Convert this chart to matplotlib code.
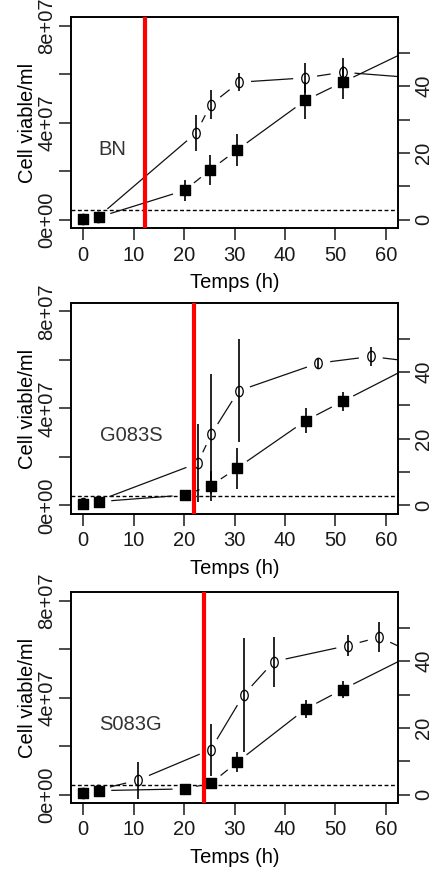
import matplotlib
matplotlib.use("Agg")
import matplotlib.pyplot as plt
import numpy as np
from matplotlib.path import Path

plt.rcParams['font.family'] = ['Liberation Sans', 'DejaVu Sans']
plt.rcParams['font.size'] = 14.5
plt.rcParams['text.color'] = '#1a1a1a'
plt.rcParams['xtick.color'] = '#1a1a1a'
plt.rcParams['ytick.color'] = '#1a1a1a'

# --- data (viable cells in units of 1e7 / ml on the left axis, second series on the right axis)
strains = ["BN", "G083S", "S083G"]
induction_h = [12.2, 22.0, 23.9]
threshold_e7 = 0.41

bn_sq_t = [0, 3.1, 20.1, 25.2, 30.5, 44.0, 51.4, 70]
bn_sq_v = [0.03, 0.1, 1.2, 2.05, 2.87, 4.91, 5.66, 7.52]
bn_sq_err = [0, 0, 0.45, 0.62, 0.65, 0.78, 0.69, 0]
bn_ci_t = [0, 3.0, 22.4, 25.3, 30.9, 44.0, 51.4, 70]
bn_ci_v = [0.2, 0.85, 26.0, 34.5, 41.2, 42.5, 44.2, 42.0]
bn_ci_err = [0, 0, 5.5, 4.4, 2.7, 4.4, 4.4, 0]

g_sq_t = [0, 3.2, 20.1, 25.3, 30.5, 44.1, 51.4, 70]
g_sq_v = [0.05, 0.16, 0.43, 0.82, 1.54, 3.5, 4.29, 6.27]
g_sq_err = [0, 0, 0.2, 0.62, 0.84, 0.52, 0.38, 0]
g_ci_t = [0, 3.0, 22.7, 25.4, 30.8, 46.6, 57.0, 70]
g_ci_v = [0.7, 1.4, 12.7, 21.4, 34.4, 42.7, 44.7, 42.3]
g_ci_err = [0, 0, 11.8, 18.0, 15.5, 1.5, 2.8, 0]

s_sq_t = [0, 3.2, 20.1, 25.4, 30.5, 44.1, 51.4, 70]
s_sq_v = [0.05, 0.16, 0.23, 0.47, 1.33, 3.53, 4.33, 6.27]
s_sq_err = [0, 0, 0, 0.15, 0.41, 0.36, 0.34, 0]
s_ci_t = [0, 3.0, 10.85, 25.3, 31.8, 37.8, 52.5, 58.7, 66]
s_ci_v = [0.4, 1.4, 4.3, 13.5, 29.9, 39.9, 44.7, 47.2, 42.0]
s_ci_err = [0, 0, 5.6, 7.8, 17.0, 7.5, 3.2, 4.5, 0]

panels = [
    (bn_sq_t, bn_sq_v, bn_sq_err, bn_ci_t, bn_ci_v, bn_ci_err),
    (g_sq_t, g_sq_v, g_sq_err, g_ci_t, g_ci_v, g_ci_err),
    (s_sq_t, s_sq_v, s_sq_err, s_ci_t, s_ci_v, s_ci_err),
]

# open "circle" is a bit taller than wide in the reference (squashed picture)
_c = Path.unit_circle()
ellipse = Path(_c.vertices * [0.72, 1.0], _c.codes)
square = Path([(-0.45, -0.5), (0.45, -0.5), (0.45, 0.5), (-0.45, 0.5), (-0.45, -0.5)],
              [Path.MOVETO, Path.LINETO, Path.LINETO, Path.LINETO, Path.CLOSEPOLY])

RATIO = 7.275  # right-axis units per 1e7 cells


def gapped_line(ax, x, y, gap=12, lw=0.9):
    # R type="b": segments between points, cut short around each point
    pts = ax.transData.transform(np.column_stack([x, y]))
    inv = ax.transData.inverted()
    for p0, p1 in zip(pts[:-1], pts[1:]):
        d = p1 - p0
        n = np.hypot(*d)
        if n <= 2 * gap:
            continue
        u = d / n
        a = inv.transform(p0 + u * gap)
        b = inv.transform(p1 - u * gap)
        ax.plot([a[0], b[0]], [a[1], b[1]], color='#111111', lw=lw, solid_capstyle='butt')


fig = plt.figure(figsize=(4.34, 8.75), dpi=100)
bottoms = [0.7394, 0.4126, 0.0823]

for i, (sq_t, sq_v, sq_e, ci_t, ci_v, ci_e) in enumerate(panels):
    ax = fig.add_axes([0.1636, bottoms[i], 0.7535, 0.2411])
    ax2 = ax.twinx()
    ax.set_xlim(-2.4, 62.4)
    ax.set_ylim(-0.35, 8.35)
    ax2.set_ylim(-0.35 * RATIO, 8.35 * RATIO)

    ax.set_xticks(range(0, 61, 10))
    ax.set_yticks([0, 2, 4, 6, 8])
    ax.set_yticklabels(['0e+00', '', '4e+07', '', '8e+07'], rotation=90, va='center')
    ax2.set_yticks(range(0, 51, 10))
    ax2.set_yticklabels(['0', '', '20', '', '40', ''], rotation=90, va='center')
    for a in (ax, ax2):
        a.tick_params(direction='out', length=8.6, width=1.1)
        for s in a.spines.values():
            s.set_linewidth(1.2)
    ax.tick_params(axis='x', pad=4)
    ax.tick_params(axis='y', pad=2)
    ax2.tick_params(axis='y', pad=3)

    ax.set_xlabel('Temps (h)', labelpad=6)
    ax.set_ylabel('Cell viable/ml', labelpad=0.5)

    ax.axhline(threshold_e7, color='black', lw=1.0, ls=(0, (2.8, 1.8)))

    # squares, left axis
    gapped_line(ax, sq_t, sq_v)
    sv = np.array(sq_v[:-1])
    se = np.array(sq_e[:-1])
    ax.vlines(sq_t[:-1], sv - se, sv + se, color='black', lw=1.2)
    ax.plot(sq_t[:-1], sq_v[:-1], ls='none', marker=square, ms=7.4,
            mfc='black', mec='black')

    # circles, right axis
    gapped_line(ax2, ci_t, ci_v)
    cv = np.array(ci_v[:-1])
    ce = np.array(ci_e[:-1])
    ax2.vlines(ci_t[:-1], cv - ce, cv + ce, color='black', lw=1.2)
    ax2.plot(ci_t[:-1], ci_v[:-1], ls='none', marker=ellipse, ms=7.5,
             mfc='none', mec='black', mew=0.9)

    ax2.axvline(induction_h[i], color='#ff0000', lw=3, zorder=6)
    ax.text(0.125 if i == 0 else 0.183, 0.37, strains[i], transform=ax.transAxes,
            ha='center', va='center', fontsize=14.5, color='#333333')

fig.savefig('out.png', dpi=100)
